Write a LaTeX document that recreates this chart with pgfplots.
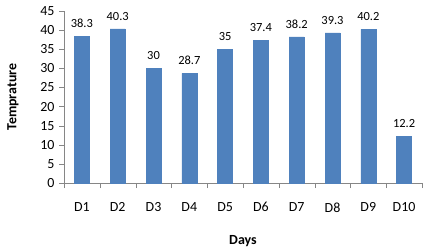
\documentclass[border=0pt]{standalone}
\usepackage{pgfplots}
\pgfplotsset{compat=1.18}
\usepackage{fontspec}
\setmainfont{Carlito}
\definecolor{barblue}{HTML}{4F81BD}
\definecolor{axgray}{HTML}{868686}
\begin{document}
\begin{tikzpicture}
\begin{axis}[name=ax,
  scale only axis, width=358bp, height=172bp,
  xmin=0.5, xmax=10.5, ymin=0, ymax=45,
  ytick={0,5,...,45},
  xtick={0.5,1.5,...,10.5}, xticklabels={},
  extra x ticks={1,2,3,4,5,6,7,8,9,10},
  extra x tick labels={D1,D2,D3,D4,D5,D6,D7,D8,D9,D10},
  extra x tick style={tick style={draw=none}},
  axis x line*=bottom, axis y line*=left,
  axis line style={draw=axgray},
  tick style={draw=axgray},
  tick align=outside, major tick length=5bp,
  ticklabel style={font=\fontsize{14}{16}\selectfont},
  /pgf/number format/assume math mode=true,
  xticklabel style={yshift=-11bp},
  yticklabel style={xshift=-1bp},
  xlabel={\bfseries Days},
  ylabel={\bfseries Temprature},
  label style={font=\fontsize{14}{16}\selectfont},
  xlabel style={at={(axis description cs:0.5,0)}, anchor=base, yshift=-61bp},
  ylabel style={at={(axis description cs:-0.1425,0.5)}, anchor=center},
  ybar, bar width=15bp,
  nodes near coords,
  nodes near coords style={font=\fontsize{12.5}{14}\selectfont, text=black, yshift=5bp},
  clip=false,
]
\addplot[fill=barblue, draw=barblue] coordinates {
(1,38.3) (2,40.3) (3,30) (4,28.7) (5,35) (6,37.4) (7,38.2) (8,39.3) (9,40.2) (10,12.2)};
\end{axis}
\pgfresetboundingbox
\path (ax.south west) ++(-64bp,-69bp) rectangle ([shift={(7bp,11bp)}]ax.north east);
\end{tikzpicture}
\end{document}
